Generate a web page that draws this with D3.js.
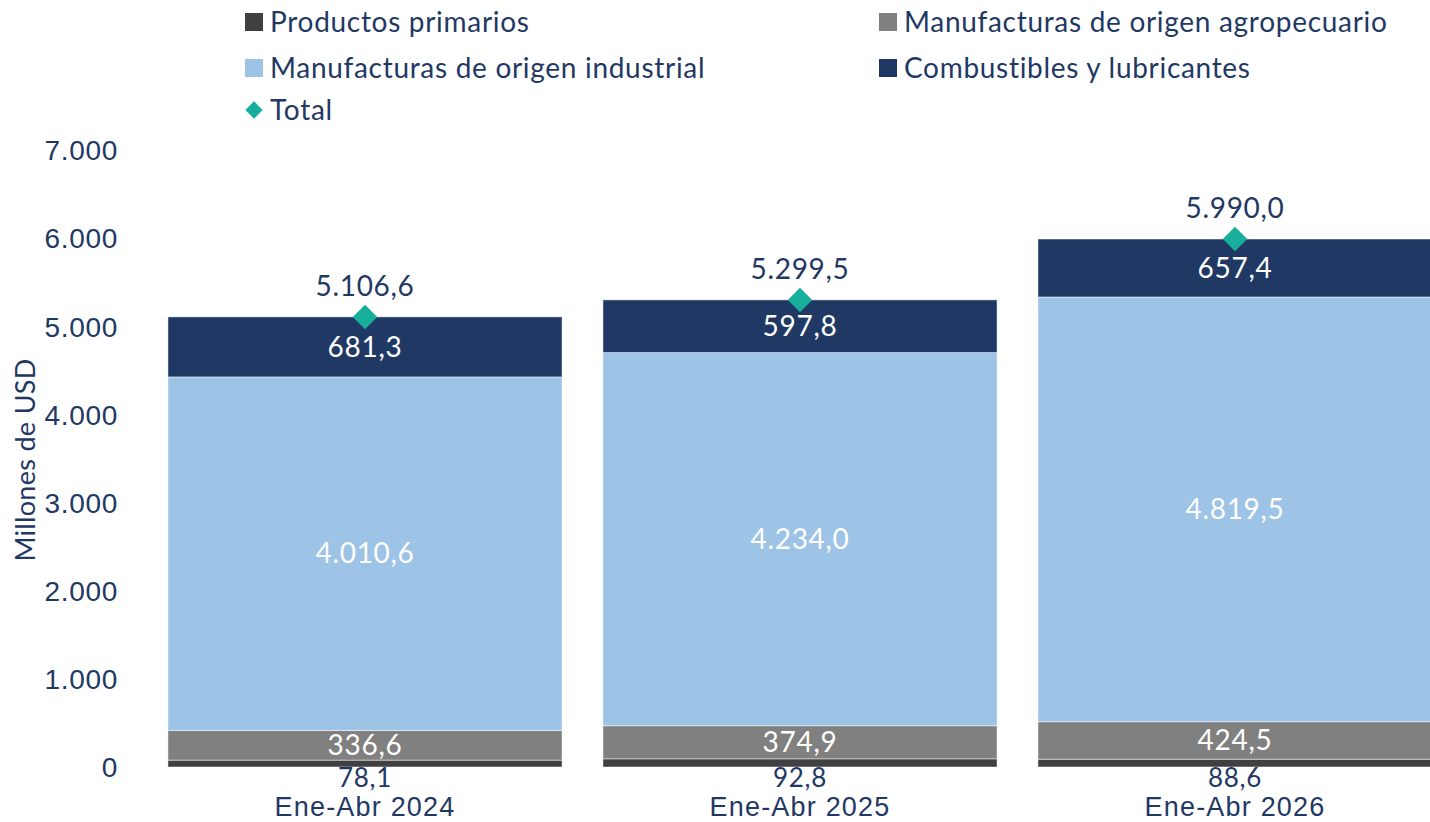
<!DOCTYPE html>
<html><head><meta charset="utf-8">
<script src="https://cdn.jsdelivr.net/npm/d3@7"></script>
<style>
body{margin:0;background:#fff;}
svg{font-family:"Gill Sans","Gill Sans MT",Lato,sans-serif;}
</style></head>
<body><svg id="c" width="1430" height="822"></svg>
<script>
const categories = ["Ene-Abr 2024","Ene-Abr 2025","Ene-Abr 2026"];
const seriesNames = ["Productos primarios","Manufacturas de origen agropecuario","Manufacturas de origen industrial","Combustibles y lubricantes"];
const primarios = [78.1, 92.8, 88.6];
const moa = [336.6, 374.9, 424.5];
const moi = [4010.6, 4234.0, 4819.5];
const combustibles = [681.3, 597.8, 657.4];
const totals = [5106.6, 5299.5, 5990.0];
const yTicks = [0,1000,2000,3000,4000,5000,6000,7000];
const colors = ["#404040","#808080","#9DC3E6","#203864"];
const totalColor = "#17AE9C";
const textColor = "#1F3864";

const fmt = v => { const s = d3.format(",.1f")(v); return s.replace(/,/g,"#").replace(".",",").replace(/#/g,"."); };
const fmtTick = v => d3.format(",")(v).replace(/,/g,".");

const svg = d3.select("#c");
const x = d3.scaleBand().domain(categories).range([147.5,1452.5]).paddingInner(0.094).paddingOuter(0.047);
const y = d3.scaleLinear().domain([0,7000]).range([767,150]);

const FS = "28px", LS = "0.7px";

const seriesVals = [primarios, moa, moi, combustibles];
const rows = categories.map((c,i)=>{ const o={cat:c}; seriesNames.forEach((s,j)=>o[s]=seriesVals[j][i]); return o; });
const stack = d3.stack().keys(seriesNames)(rows);

// y axis
const yAxis = svg.append("g").attr("transform","translate(118,0)")
  .call(d3.axisLeft(y).tickValues(yTicks).tickFormat(fmtTick).tickSize(0).tickPadding(0));
yAxis.select(".domain").remove();
yAxis.selectAll("text").attr("fill",textColor).style("font-size",FS).style("letter-spacing",LS).attr("dy","0.35em");

svg.append("text").attr("transform","translate(26,460) rotate(-90)").attr("text-anchor","middle")
  .attr("dy","0.35em").attr("fill",textColor).style("font-size","27px").style("letter-spacing","0.3px").text("Millones de USD");

// bars
stack.forEach((layer,j)=>{
  svg.append("g").selectAll("rect").data(layer).join("rect")
    .attr("x",d=>x(d.data.cat)).attr("width",x.bandwidth())
    .attr("y",d=>y(d[1])).attr("height",d=>y(d[0])-y(d[1]))
    .attr("fill",colors[j]).attr("stroke","#ffffff").attr("stroke-opacity",0.6).attr("stroke-width",0.8);
});

// segment labels (inside) for series 1..3
stack.forEach((layer,j)=>{
  if(j===0) return;
  svg.append("g").selectAll("text").data(layer).join("text")
    .attr("x",d=>x(d.data.cat)+x.bandwidth()/2).attr("y",d=>y((d[0]+d[1])/2))
    .attr("text-anchor","middle").attr("dy","0.35em").attr("fill","#ffffff").style("font-size",FS).style("letter-spacing",LS)
    .text(d=>fmt(d[1]-d[0]));
});
// primarios labels below bars
svg.append("g").selectAll("text").data(stack[0]).join("text")
  .attr("x",d=>x(d.data.cat)+x.bandwidth()/2).attr("y",y(0)+11)
  .attr("text-anchor","middle").attr("dy","0.35em").attr("fill",textColor).style("font-size","26px").style("letter-spacing",LS)
  .text(d=>fmt(d[1]-d[0]));

// category labels
const xAxis = svg.append("g").attr("transform",`translate(0,${y(0)})`)
  .call(d3.axisBottom(x).tickSize(0).tickPadding(0));
xAxis.select(".domain").remove();
xAxis.selectAll("text").attr("fill",textColor).style("font-size","27px").style("letter-spacing","1.2px").attr("y",40).attr("dy","0.35em");

// totals
const diamond = d3.symbol().type(d3.symbolSquare).size(300);
svg.append("g").selectAll("path").data(totals).join("path")
  .attr("d",diamond)
  .attr("transform",(d,i)=>`translate(${x(categories[i])+x.bandwidth()/2},${y(d)}) rotate(45)`)
  .attr("fill",totalColor);
svg.append("g").selectAll("text").data(totals).join("text")
  .attr("x",(d,i)=>x(categories[i])+x.bandwidth()/2).attr("y",d=>y(d)-31)
  .attr("text-anchor","middle").attr("dy","0.35em").attr("fill",textColor).style("font-size",FS).style("letter-spacing",LS)
  .text(d=>fmt(d));

// legend
const legendItems = [
  {name:seriesNames[0],color:colors[0],x:245,y:22,type:"sq"},
  {name:seriesNames[1],color:colors[1],x:879,y:22,type:"sq"},
  {name:seriesNames[2],color:colors[2],x:245,y:68,type:"sq"},
  {name:seriesNames[3],color:colors[3],x:879,y:68,type:"sq"},
  {name:"Total",color:totalColor,x:245,y:110,type:"dm"}
];
const lg = svg.append("g");
legendItems.forEach(it=>{
  if(it.type==="sq"){
    lg.append("rect").attr("x",it.x).attr("y",it.y-9).attr("width",18).attr("height",18).attr("fill",it.color);
  } else {
    lg.append("path").attr("d",d3.symbol().type(d3.symbolSquare).size(150))
      .attr("transform",`translate(${it.x+9},${it.y}) rotate(45)`).attr("fill",it.color);
  }
  lg.append("text").attr("x",it.x+25).attr("y",it.y).attr("dy","0.35em").attr("fill",textColor)
    .style("font-size",FS).style("letter-spacing",LS).text(it.name);
});
</script></body></html>
